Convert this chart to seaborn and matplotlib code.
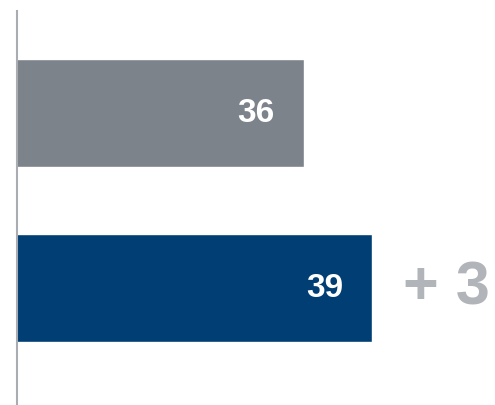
import matplotlib
matplotlib.use("Agg")
import matplotlib.pyplot as plt
import seaborn as sns
import pandas as pd

categories = ["Previous", "Current"]
values = [36, 39]
colors = ["#7d838b", "#003e74"]
change_label = "+ 3"

sns.set_style("white")
plt.rcParams["font.family"] = ["Liberation Sans", "DejaVu Sans"]

df = pd.DataFrame({"cat": categories, "val": values})

fig = plt.figure(figsize=(4.95, 4.06), dpi=100)
ax = fig.add_axes([17 / 495, 0, 478 / 495, 394 / 406])

sns.barplot(data=df, y="cat", x="val", hue="cat", palette=colors,
            orient="h", width=0.62, dodge=False, legend=False, ax=ax,
            saturation=1)

ax.set_xlim(23.4, 44.4)
ax.set_ylim(1.669, -0.583)

for i, v in enumerate(values):
    ax.annotate(str(v), xy=(v, i), xytext=(-21, 0), textcoords="offset points",
                ha="right", va="center", color="white", fontsize=24,
                fontweight="bold")

ax.annotate(change_label, xy=(values[-1], len(values) - 1), xytext=(22, 0),
            textcoords="offset points", ha="left", va="center",
            color="#b1b4b8", fontsize=44, fontweight="bold")

for s in ["top", "right", "bottom"]:
    ax.spines[s].set_visible(False)
ax.spines["left"].set_color("#a9adb2")
ax.spines["left"].set_linewidth(1.5)
ax.set_xticks([])
ax.set_yticks([])
ax.set_xlabel("")
ax.set_ylabel("")

fig.savefig("out.png", dpi=100)
